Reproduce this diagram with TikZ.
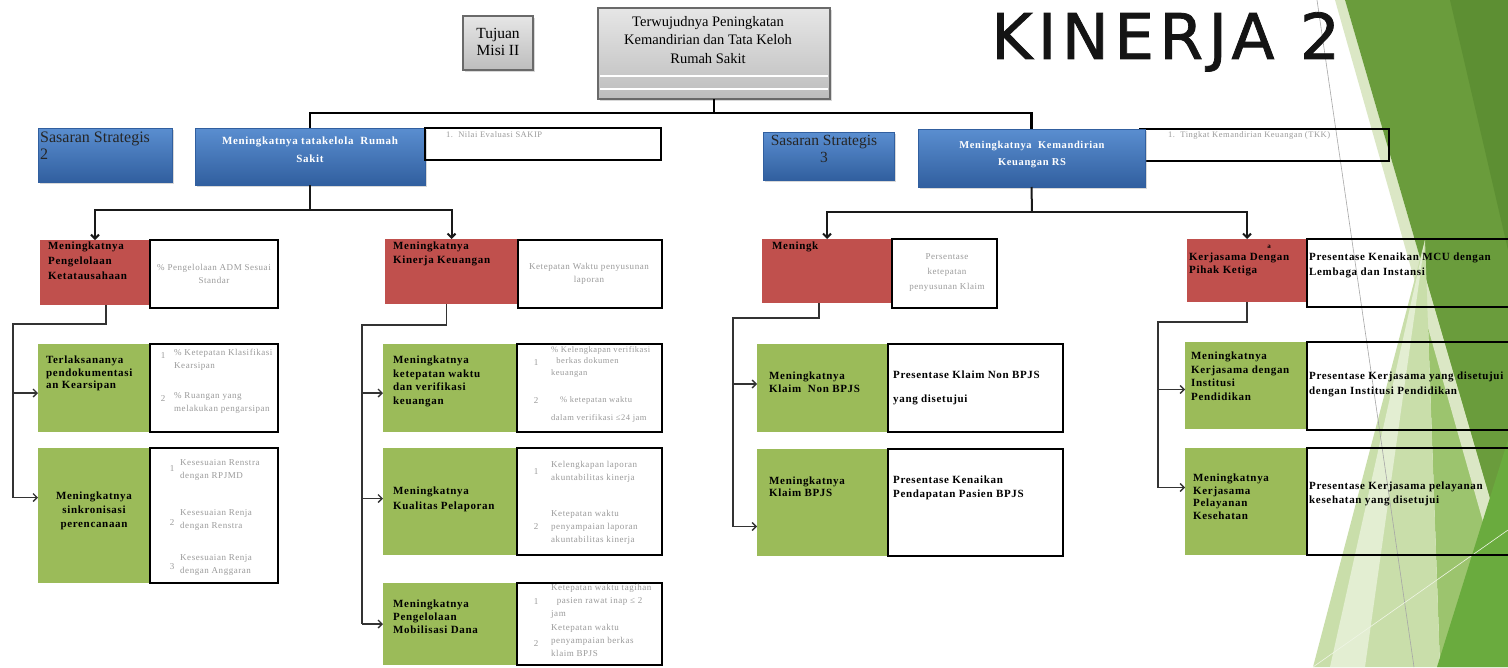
\documentclass[tikz,border=0pt]{standalone}
\usepackage{fontspec}
\setmainfont{Liberation Serif}
\newfontfamily\bxf[LetterSpace=6]{Liberation Serif}
\newfontfamily\ttlf[LetterSpace=8.5,FakeBold=1.2]{DejaVu Sans}
\usetikzlibrary{arrows.meta,shadows,calc}
\definecolor{bluetop}{HTML}{5A8ED0}
\definecolor{bluebot}{HTML}{315F9F}
\definecolor{redbx}{HTML}{C0504D}
\definecolor{greenbx}{HTML}{9BBB59}
\definecolor{grayt}{HTML}{9A9A9A}
\definecolor{graytop}{HTML}{E6E6E6}
\definecolor{graybot}{HTML}{BDBDBD}
\definecolor{grayline}{HTML}{6A6A6A}
\definecolor{decoMed}{HTML}{6A9C3C}
\definecolor{decoDark}{HTML}{5D8F33}
\definecolor{decoPale}{HTML}{DBE7C5}
\definecolor{decoLight}{HTML}{C9DEAA}
\definecolor{decoWhite}{HTML}{E3EED2}
\definecolor{decoML}{HTML}{9CC46E}
\definecolor{decoBright}{HTML}{6AAB3E}
\newcommand\mkbox[6]{\node[#2,minimum width={#5-#3},minimum height={#6-#4}] (#1) at (#3,#4) {};}
\tikzset{
  box/.style={anchor=north west,inner sep=0pt,outer sep=0pt},
  shd/.style={drop shadow={shadow xshift=1.5pt,shadow yshift=-2pt,opacity=0.3}},
  bluebox/.style={box,shd,top color=bluetop,bottom color=bluebot,draw=bluebot,line width=0.6pt},
  graybox/.style={box,shd,top color=graytop,bottom color=graybot,draw=grayline,line width=1.2pt},
  redbox/.style={box,fill=redbx},
  greenbox/.style={box,fill=greenbx},
  wbox/.style={box,draw=black,line width=1.3pt},
  dk/.style={inner sep=0pt,align=left,text=black,font=\bxf\bfseries\fontsize{11}{14}\selectfont},
  gy/.style={inner sep=0pt,align=left,text=grayt,font=\bxf\fontsize{9}{13}\selectfont},
  wt/.style={inner sep=0pt,align=center,text=white,font=\bxf\bfseries\fontsize{11}{18}\selectfont},
  sas/.style={inner sep=0pt,text=black!85,font=\fontsize{15.5}{17}\selectfont},
  topc/.style={line width=2.6pt,draw=black},
  midc/.style={line width=2pt,draw=black!90},
  lowc/.style={line width=1.3pt,draw=black!80},
  arr/.style={-{Straight Barb[length=4pt,width=8pt]}},
}
\begin{document}
\begin{tikzpicture}[x=1pt,y=-1pt]
\clip (0,0) rectangle (1508,667);
\fill[white] (0,0) rectangle (1508,667);
% decoration (right side)
\fill[decoML] (1425,240) -- (1508,330) -- (1508,667) -- (1440,667) -- cycle;
\fill[decoPale] (1335,0) -- (1345,0) -- (1508,560) -- (1508,610) -- cycle;
\fill[decoMed] (1345,0) -- (1508,0) -- (1508,560) -- cycle;
\fill[decoDark] (1450,0) -- (1508,0) -- (1508,250) -- cycle;
\fill[decoLight] (1425,240) -- (1313,667) -- (1440,667) -- cycle;
\fill[decoWhite] (1425,240) -- (1330,667) -- (1365,667) -- cycle;
\fill[decoBright] (1508,440) -- (1437,667) -- (1508,667) -- cycle;
\draw[gray!70,line width=0.6pt] (1317,0) -- (1414,667);
\draw[white!70!decoLight,line width=0.6pt] (1313,667) -- (1508,530);
% title
\node[anchor=north west,inner sep=0pt,text=black!92,font=\ttlf\fontsize{63}{63}\selectfont] (title) at (991,12) {KINERJA 2};
% top boxes
\mkbox{tuj}{graybox}{463}{16}{533}{70}
\node[inner sep=0pt,align=center,font=\fontsize{15.5}{17}\selectfont] (tujt) at (498,42) {Tujuan\\Misi II};
\mkbox{main}{graybox}{598}{8}{830}{99}
\draw[white,line width=1.6pt] (600,76) -- (828,76);
\draw[white,line width=1.6pt] (600,89) -- (828,89);
\node[anchor=north,inner sep=0pt,align=center,font=\fontsize{14.5}{18.5}\selectfont] (maint) at (708,16) {Terwujudnya Peningkatan\\Kemandirian dan Tata Keloh\\Rumah Sakit};
% level 1
\mkbox{sas2}{bluebox}{38}{128}{172}{182}
\node[sas,anchor=north west,align=left,font=\fontsize{16}{17}\selectfont] (sas2t) at (40,132) {Sasaran Strategis\\2};
\mkbox{b1}{bluebox}{195}{128}{425}{185}
\node[wt] (b1t) at (310,150) {Meningkatnya tatakelola~~Rumah\\Sakit};
\mkbox{nilai}{wbox}{425}{128}{661}{160}
\node[gy,anchor=north west,font=\bxf\fontsize{8.5}{11}\selectfont] (nilait) at (446,131) {1.~~Nilai Evaluasi SAKIP};
\mkbox{sas3}{bluebox}{763}{132}{894}{180}
\node[sas,anchor=north,align=center] (sas3t) at (824,135) {Sasaran Strategis\\3};
\mkbox{tkk}{wbox}{1140}{129}{1389}{161}
\mkbox{b3}{bluebox}{918}{129}{1145}{187}
\node[wt,font=\bxf\bfseries\fontsize{10.5}{17}\selectfont] (b3t) at (1032,155) {Meningkatnya~~Kemandirian\\Keuangan RS};
\node[gy,anchor=north west,font=\bxf\fontsize{8.5}{11}\selectfont] (tkkt) at (1168,131) {1.~~Tingkat Kemandirian Keuangan (TKK)};
% top connectors
\coordinate (j0) at (714,113);
\draw[topc] (main.south) -- (j0);
\draw[topc] (b1.north) |- (j0) -| (b3.north);
% level 2 boxes
\mkbox{r1}{redbox}{40}{240}{150}{305}
\mkbox{w1}{wbox}{150}{240}{278}{308}
\node[dk,anchor=north west,font=\bxf\bfseries\fontsize{11}{15}\selectfont] (r1t) at (48,242) {Meningkatnya\\Pengelolaan\\Ketatausahaan};
\node[gy,align=center] (w1t) at (214,274) {\% Pengelolaan ADM Sesuai\\Standar};
\mkbox{r2}{redbox}{385}{239}{518}{304}
\mkbox{w2}{wbox}{518}{240}{662}{308}
\node[dk,anchor=north west] (r2t) at (393,242) {Meningkatnya\\Kinerja Keuangan};
\node[gy,align=center] (w2t) at (589,274) {Ketepatan Waktu penyusunan\\laporan};
\mkbox{r3}{redbox}{762}{239}{892}{303}
\mkbox{w3}{wbox}{892}{239}{997}{308}
\node[dk,anchor=north west] (r3t) at (772,242) {Meningk};
\node[gy,align=center,font=\bxf\fontsize{9}{15}\selectfont] (w3t) at (947,273) {Persentase\\ketepatan\\penyusunan Klaim};
\mkbox{r4}{redbox}{1187}{239}{1307}{302}
\mkbox{w4}{wbox}{1307}{239}{1530}{307}
\node[dk,font=\bxf\bfseries\fontsize{7}{8}\selectfont] (r4a) at (1269,247) {a};
\node[dk,anchor=north west,font=\bxf\bfseries\fontsize{11}{13}\selectfont] (r4t) at (1189,253) {Kerjasama Dengan\\Pihak Ketiga};
\node[dk,anchor=north west,font=\bxf\bfseries\fontsize{11}{15}\selectfont] (w4t) at (1309,253) {Presentase Kenaikan MCU dengan\\Lembaga dan Instansi};
% level 2 connectors
\coordinate (j1) at (310,210);
\draw[midc] (b1.south) -- (j1);
\draw[midc,arr] (j1) -| (r1.north);
\draw[midc,arr] (j1) -| (r2.north);
\coordinate (j2) at (1032,212);
\draw[midc] (b3.south) -- (j2);
\draw[midc,arr] (j2) -| (r3.north);
\draw[midc,arr] (j2) -| (r4.north);
% level 3 boxes: column 1
\mkbox{g1}{greenbox}{38}{344}{150}{432}
\mkbox{v1}{wbox}{150}{344}{278}{432}
\node[dk,anchor=north west,font=\bxf\bfseries\fontsize{11}{12.5}\selectfont] (g1t) at (46,356) {Terlaksananya\\pendokumentasi\\an Kearsipan};
\node[gy] (v1n1) at (163,356) {1};
\node[gy,anchor=north west] (v1a) at (174,349) {\% Ketepatan Klasifikasi\\Kearsipan};
\node[gy] (v1n2) at (163,399) {2};
\node[gy,anchor=north west] (v1b) at (174,392) {\% Ruangan yang\\melakukan pengarsipan};
\mkbox{g2}{greenbox}{38}{448}{150}{583}
\mkbox{v2}{wbox}{150}{448}{278}{583}
\node[dk,align=center] (g2t) at (94,511) {Meningkatnya\\sinkronisasi\\perencanaan};
\node[gy] (v2n1) at (172,469) {1};
\node[gy,anchor=north west] (v2a) at (180,459) {Kesesuaian Renstra\\dengan RPJMD};
\node[gy] (v2n2) at (172,523) {2};
\node[gy,anchor=north west] (v2b) at (180,509) {Kesesuaian Renja\\dengan Renstra};
\node[gy] (v2n3) at (172,567) {3};
\node[gy,anchor=north west] (v2c) at (180,554) {Kesesuaian Renja\\dengan Anggaran};
% column 2
\mkbox{g3}{greenbox}{383}{344}{517}{432}
\mkbox{v3}{wbox}{517}{344}{662}{432}
\node[dk,anchor=north west,font=\bxf\bfseries\fontsize{11}{13.5}\selectfont] (g3t) at (393,356) {Meningkatnya\\ketepatan waktu\\dan verifikasi\\keuangan};
\node[gy] (v3n1) at (536,363) {1};
\node[gy,anchor=north west,font=\bxf\fontsize{8.5}{11.5}\selectfont] (v3a) at (551,346) {\% Kelengkapan verifikasi\\~~berkas dokumen\\keuangan};
\node[gy] (v3n2) at (536,401) {2};
\node[gy,anchor=north west,font=\bxf\fontsize{8.5}{11.5}\selectfont] (v3b) at (560,396) {\% ketepatan waktu};
\node[gy,anchor=north west,font=\bxf\fontsize{8.5}{11.5}\selectfont] (v3c) at (551,414) {dalam verifikasi ≤24 jam};
\mkbox{g4}{greenbox}{383}{448}{517}{555}
\mkbox{v4}{wbox}{517}{448}{662}{555}
\node[dk,anchor=north west,font=\bxf\bfseries\fontsize{11}{15}\selectfont] (g4t) at (393,487) {Meningkatnya\\Kualitas Pelaporan};
\node[gy] (v4n1) at (536,472) {1};
\node[gy,anchor=north west] (v4a) at (551,461) {Kelengkapan laporan\\akuntabilitas kinerja};
\node[gy] (v4n2) at (536,527) {2};
\node[gy,anchor=north west] (v4b) at (551,510) {Ketepatan waktu\\penyampaian laporan\\akuntabilitas kinerja};
\mkbox{g5}{greenbox}{383}{583}{517}{665}
\mkbox{v5}{wbox}{517}{583}{662}{665}
\node[dk,anchor=north west,font=\bxf\bfseries\fontsize{11}{13}\selectfont] (g5t) at (393,600) {Meningkatnya\\Pengelolaan\\Mobilisasi Dana};
\node[gy] (v5n1) at (536,602) {1};
\node[gy,anchor=north west] (v5a) at (551,584) {Ketepatan waktu tagihan\\~~pasien rawat inap ≤ 2\\jam};
\node[gy] (v5n2) at (536,644) {2};
\node[gy,anchor=north west] (v5b) at (551,624) {Ketepatan waktu\\penyampaian berkas\\klaim BPJS};
% column 3
\mkbox{g6}{greenbox}{757}{344}{888}{432}
\mkbox{v6}{wbox}{888}{344}{1063}{432}
\node[dk,anchor=north west,font=\bxf\bfseries\fontsize{11}{12.5}\selectfont] (g6t) at (769,372) {Meningkatnya\\Klaim~~Non BPJS};
\node[dk,anchor=north west,font=\bxf\bfseries\fontsize{11}{24}\selectfont] (v6t) at (893,371) {Presentase Klaim Non BPJS\\yang disetujui};
\mkbox{g7}{greenbox}{757}{449}{888}{556}
\mkbox{v7}{wbox}{888}{449}{1063}{556}
\node[dk,anchor=north west,font=\bxf\bfseries\fontsize{11}{11.5}\selectfont] (g7t) at (769,477) {Meningkatnya\\Klaim BPJS};
\node[dk,anchor=north west,font=\bxf\bfseries\fontsize{11}{14}\selectfont] (v7t) at (893,476) {Presentase Kenaikan\\Pendapatan Pasien BPJS};
% column 4
\mkbox{g8}{greenbox}{1185}{342}{1307}{429}
\mkbox{v8}{wbox}{1307}{342}{1530}{430}
\node[dk,anchor=north west,font=\bxf\bfseries\fontsize{11}{13.5}\selectfont] (g8t) at (1191,352) {Meningkatnya\\Kerjasama dengan\\Institusi\\Pendidikan};
\node[dk,anchor=north west,font=\bxf\bfseries\fontsize{11}{15}\selectfont] (v8t) at (1309,372) {Presentase Kerjasama yang disetujui\\dengan Institusi Pendidikan};
\mkbox{g9}{greenbox}{1185}{448}{1307}{555}
\mkbox{v9}{wbox}{1307}{448}{1530}{555}
\node[dk,anchor=north west,font=\bxf\bfseries\fontsize{11}{12.5}\selectfont] (g9t) at (1193,474) {Meningkatnya\\Kerjasama\\Pelayanan\\Kesehatan};
\node[dk,anchor=north west,font=\bxf\bfseries\fontsize{11}{14}\selectfont] (v9t) at (1309,482) {Presentase Kerjasama pelayanan\\kesehatan yang disetujui};
% level 3 connectors
\coordinate (k1) at (13,324);
\draw[lowc] ([xshift=11pt]r1.south) |- (k1) -- ([yshift=18pt]k1 |- g2.west);
\draw[lowc,arr] ([yshift=-5pt]k1 |- g1.west) -- ([yshift=-5pt]g1.west);
\draw[lowc,arr] ([yshift=18pt]k1 |- g2.west) -- ([yshift=18pt]g2.west);
\coordinate (k2) at (362,325);
\draw[lowc] ([xshift=-5pt]r2.south) |- (k2) -- (k2 |- g5.west);
\draw[lowc,arr] ([yshift=-5pt]k2 |- g3.west) -- ([yshift=-5pt]g3.west);
\draw[lowc,arr] ([yshift=3pt]k2 |- g4.west) -- ([yshift=3pt]g4.west);
\draw[lowc,arr] (k2 |- g5.west) -- (g5.west);
\coordinate (k3) at (733,318);
\draw[lowc] ([xshift=-8pt]r3.south) |- (k3) -- ([yshift=-24pt]k3 |- g7.west);
\draw[lowc,arr] ([yshift=4pt]k3 |- g6.west) -- ([yshift=4pt]g6.west);
\draw[lowc,arr] ([yshift=-24pt]k3 |- g7.west) -- ([yshift=-24pt]g7.west);
\coordinate (k4) at (1158,322);
\draw[lowc] (r4.south) |- (k4) -- ([yshift=14pt]k4 |- g9.west);
\draw[lowc,arr] ([yshift=-4pt]k4 |- g8.west) -- ([yshift=-4pt]g8.west);
\draw[lowc,arr] ([yshift=14pt]k4 |- g9.west) -- ([yshift=14pt]g9.west);
\end{tikzpicture}
\end{document}
